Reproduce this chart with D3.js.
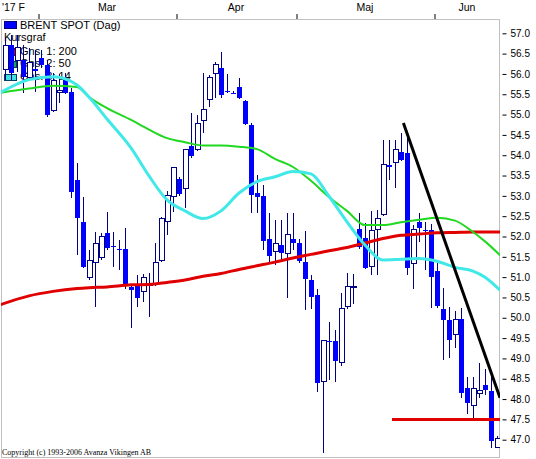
<!DOCTYPE html>
<html><head><meta charset="utf-8">
<script src="https://cdn.jsdelivr.net/npm/d3@7"></script>
<style>
html,body{margin:0;padding:0;background:#fff;}
svg{display:block;}
</style></head>
<body>
<svg id="chart" width="536" height="459"></svg>
<script>
// ---- data ----
const opens  = [56.10,56.71,56.34,56.34,55.92,56.12,56.39,56.22,55.11,55.55,55.90,55.56,53.39,52.36,50.98,51.35,51.49,52.09,51.76,51.70,
                51.70,50.76,50.81,50.64,50.80,50.81,51.42,52.36,52.98,53.42,53.19,54.23,54.13,54.86,55.36,56.02,56.15,55.58,55.54,55.68,
                55.33,54.74,53.07,52.99,51.94,51.62,51.79,51.57,51.94,51.84,51.37,50.93,50.56,48.42,49.44,49.43,48.91,50.27,50.76,52.18,
                51.96,51.26,52.18,52.55,53.76,53.83,54.08,54.05,51.33,52.36,52.17,52.16,51.15,50.22,49.95,49.60,49.97,48.27,47.85,48.14,
                48.34,48.19,46.82];
const highs  = [56.90,56.95,56.95,56.70,56.64,56.59,56.59,56.35,56.02,56.00,56.02,55.65,53.81,52.97,51.67,52.11,52.09,52.60,52.11,51.91,
                52.20,50.81,51.06,51.08,51.10,51.84,52.48,53.12,53.71,53.46,54.15,55.04,54.99,56.02,55.97,56.30,56.54,56.00,55.58,55.90,
                55.36,54.80,53.51,53.27,52.58,52.41,52.41,52.58,52.58,51.94,52.14,51.06,50.71,49.45,49.90,49.70,50.61,51.11,51.08,52.58,
                52.33,52.62,52.65,54.37,54.37,54.37,54.54,54.45,52.28,52.58,52.36,52.30,51.37,50.73,50.27,50.17,50.24,48.54,48.54,48.88,
                48.74,48.70,47.10];
const lows   = [55.85,55.85,56.05,55.53,55.85,55.55,56.15,54.95,55.06,55.28,55.50,52.95,51.55,51.22,50.93,50.27,51.42,51.67,51.25,51.18,
                50.72,49.75,50.27,50.39,50.02,50.78,51.38,52.04,52.60,53.00,52.70,53.93,54.10,54.54,55.19,55.41,55.40,55.54,55.50,55.38,
                54.75,52.58,52.58,51.67,51.38,51.30,51.42,50.49,51.67,51.35,50.19,50.22,48.17,46.67,48.47,48.42,48.81,50.22,50.34,51.70,
                51.20,51.06,51.06,52.50,53.39,53.19,53.85,51.06,50.71,51.87,51.18,50.24,50.24,48.97,49.02,49.26,48.02,47.63,47.48,48.02,
                48.10,46.80,46.80];
const closes = [56.71,56.02,56.66,55.92,56.29,56.08,56.22,54.99,55.85,55.60,55.53,53.10,52.45,51.25,51.42,51.84,51.99,51.72,51.74,51.69,
                50.77,50.68,50.49,50.98,50.82,51.35,52.45,53.02,53.69,53.05,54.15,53.98,54.77,55.13,55.92,56.22,55.48,55.56,55.53,55.41,
                54.77,53.03,52.97,51.89,51.52,51.84,51.59,52.04,51.84,51.40,50.96,50.51,48.40,49.43,49.42,48.94,50.22,50.76,50.78,51.74,
                51.23,52.14,52.44,53.76,53.71,54.13,53.88,51.23,52.16,52.21,52.15,51.01,50.29,49.95,49.46,49.95,48.14,47.90,48.27,48.22,
                48.22,46.96,47.04];

// moving averages, sampled at candle positions
const maIdx = [-1,4,8,12,14,17,21,24,27,30,33,36,39,42,45,48,51,54,57,60,63,66,69,72,75,78,80,82.5];
const ma200 = [50.31,50.54,50.65,50.72,50.74,50.76,50.81,50.82,50.87,50.93,51.02,51.09,51.19,51.28,51.37,51.47,51.56,51.65,51.73,51.84,51.95,52.03,52.06,52.09,52.10,52.11,52.11,52.11];
const ma50  = [55.53,55.64,55.71,55.68,55.43,55.16,54.87,54.63,54.42,54.32,54.24,54.24,54.21,54.15,53.91,53.71,53.37,52.97,52.63,52.28,52.28,52.35,52.41,52.46,52.39,52.11,51.88,51.54];
const ma14  = [55.52,55.86,55.93,55.73,55.43,54.89,54.18,53.49,52.90,52.63,52.44,52.63,53.07,53.35,53.47,53.60,53.54,52.99,52.36,51.79,51.42,51.44,51.46,51.39,51.24,51.15,51.00,50.68];

// drawn lines: trend line and support line  [index, price]
const trendLine   = [[66.4, 54.79], [82.5, 48.03]];
const supportLine = [[64.5, 47.5], [82.5, 47.5]];

// month axis
const monthLabels = ["'17 F", "Mar", "Apr", "Maj", "Jun"];
const monthStarts = [-0.8, 5.5, 28.5, 48.5, 71.5];
const monthEnds   = [5.5, 28.5, 48.5, 71.5, 83.5];

// price axis ticks
const priceTicks = [47.0,47.5,48.0,48.5,49.0,49.5,50.0,50.5,51.0,51.5,52.0,52.5,53.0,53.5,54.0,54.5,55.0,55.5,56.0,56.5,57.0];

const legendItems = ["BRENT SPOT (Dag)", "Kursgraf", "Gns. 1: 200", "Gns. 2: 50", "Gns. 3: 14"];
const copyright = "Copyright (c) 1993-2006 Avanza Vikingen AB";

// ---- drawing ----
const svg = d3.select("#chart");
const frame = {left: 1, right: 500, top: 19, bottom: 458};
const x = d3.scaleLinear().domain([0, 82]).range([5, 497]);
const y = d3.scaleLinear().domain([47, 57]).range([439.7, 33.3]);

svg.append("rect").attr("width", 536).attr("height", 459).attr("fill", "#fff");

svg.append("defs").append("clipPath").attr("id", "plotclip")
  .append("rect").attr("x", frame.left).attr("y", frame.top)
  .attr("width", frame.right - frame.left).attr("height", frame.bottom - frame.top);

// frame
svg.append("rect")
  .attr("x", frame.left + 0.5).attr("y", frame.top + 0.5)
  .attr("width", frame.right - frame.left - 1).attr("height", frame.bottom - frame.top - 1)
  .attr("fill", "none").attr("stroke", "#c0c0c0").attr("stroke-width", 1);

// top axis (month boundaries)
const topAxis = d3.axisTop(x).tickValues(monthStarts.slice(1)).tickSize(5).tickFormat("");
const gTop = svg.append("g").attr("transform", `translate(0.5,${frame.top})`).call(topAxis);
gTop.select(".domain").remove();
gTop.selectAll("line").attr("stroke", "#000");

svg.append("g").selectAll("text").data(monthLabels).join("text")
  .attr("x", (d, i) => i === 0 ? 2 : (x(monthStarts[i]) + Math.min(x(monthEnds[i]), frame.right)) / 2)
  .attr("y", 11)
  .attr("text-anchor", (d, i) => i === 0 ? "start" : "middle")
  .attr("font-family", "Liberation Sans, Arial, sans-serif").attr("font-size", 10.5)
  .attr("fill", "#000").text(d => d);

// right axis
const rightAxis = d3.axisRight(y).tickValues(priceTicks).tickSize(4).tickPadding(4).tickFormat(d3.format(".1f"));
const gR = svg.append("g").attr("transform", `translate(502.5,0)`).call(rightAxis);
gR.select(".domain").remove();
gR.selectAll("line").attr("stroke", "#000");
gR.selectAll("text").attr("font-family", "Liberation Sans, Arial, sans-serif").attr("font-size", 10).attr("fill", "#000");

// legend (drawn under the candles)
const lg = svg.append("g");
const legIcons = [
  {y: 21, h: 7, fill: "#0000ff", stroke: "#000080"},
  null,
  {y: 48, h: 7, fill: "#b00040", stroke: "#400040"},
  {y: 61, h: 6, fill: "#20a060", stroke: "#004040"},
  {y: 74, h: 6, fill: "#40e0e0", stroke: "#004060"}
];
const legTextY = [29, 41, 55, 67, 80];
legendItems.forEach((t, i) => {
  const ic = legIcons[i];
  if (ic) lg.append("rect").attr("x", 4.5).attr("y", ic.y + 0.5).attr("width", 12).attr("height", ic.h)
    .attr("fill", ic.fill).attr("stroke", ic.stroke);
  lg.append("text").attr("x", i === 1 ? 4 : 20).attr("y", legTextY[i])
    .attr("font-family", "Liberation Sans, Arial, sans-serif").attr("font-size", 11)
    .attr("fill", "#000").text(t);
});

// candles
const candles = opens.map((o, i) => ({i, o, h: highs[i], l: lows[i], c: closes[i]}));
const plot = svg.append("g").attr("clip-path", "url(#plotclip)");
const cg = plot.append("g").attr("shape-rendering", "crispEdges");
cg.selectAll("line.wick").data(candles).join("line").attr("class", "wick")
  .attr("x1", d => Math.round(x(d.i)) + 0.5).attr("x2", d => Math.round(x(d.i)) + 0.5)
  .attr("y1", d => y(d.h)).attr("y2", d => y(d.l))
  .attr("stroke", "#000080").attr("stroke-width", 1);
cg.selectAll("rect.body").data(candles).join("rect").attr("class", "body")
  .attr("x", d => Math.round(x(d.i)) - 2)
  .attr("y", d => y(Math.max(d.o, d.c)))
  .attr("width", 5)
  .attr("height", d => Math.max(1, Math.abs(y(d.o) - y(d.c))))
  .attr("fill", d => d.c < d.o ? "#0000ff" : "#fff")
  .attr("stroke", d => d.c < d.o ? "#0000e0" : "#000080")
  .attr("stroke-width", d => d.c < d.o ? 0 : 1);

// moving averages
const lineGen = d3.line().x(d => x(d[0])).y(d => y(d[1])).curve(d3.curveMonotoneX);
const mas = [
  {vals: ma200, color: "#e00000", w: 3},
  {vals: ma50,  color: "#20d820", w: 2},
  {vals: ma14,  color: "#40e8e8", w: 3}
];
mas.forEach(m => {
  plot.append("path").datum(maIdx.map((k, j) => [k, m.vals[j]]))
    .attr("d", lineGen).attr("fill", "none")
    .attr("stroke", m.color).attr("stroke-width", m.w).attr("stroke-linejoin", "round");
});

const straight = d3.line().x(d => x(d[0])).y(d => y(d[1]));
plot.append("path").datum(supportLine).attr("d", straight)
  .attr("stroke", "#e00000").attr("stroke-width", 3).attr("fill", "none");
plot.append("path").datum(trendLine).attr("d", straight)
  .attr("stroke", "#000").attr("stroke-width", 3).attr("fill", "none");

// copyright
svg.append("text").attr("x", 2).attr("y", 455)
  .attr("font-family", "Liberation Serif, Times New Roman, serif").attr("font-size", 8)
  .attr("fill", "#000").text(copyright);
</script>
</body></html>
